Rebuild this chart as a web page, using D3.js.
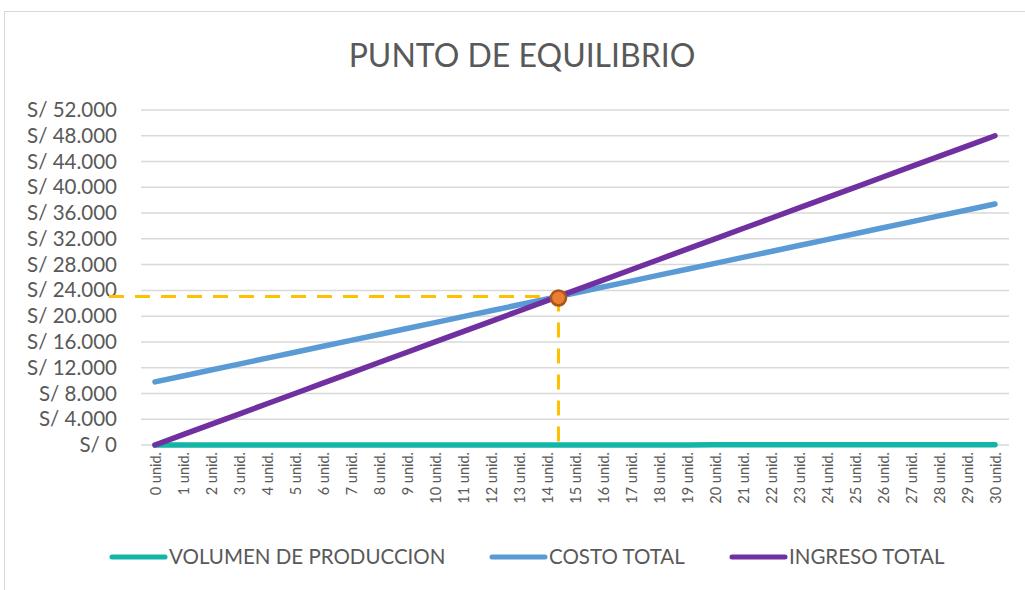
<!DOCTYPE html>
<html>
<head>
<meta charset="utf-8">
<script src="https://cdn.jsdelivr.net/npm/d3@7"></script>
<style>
  html, body { margin: 0; padding: 0; background: #ffffff; }
  svg { display: block; font-family: Lato, "Open Sans", sans-serif; }
</style>
</head>
<body>
<svg id="chart" width="1025" height="590"></svg>
<script>
// Units produced (x categories)
const units = d3.range(0, 31);
const unitLabels = ["0 unid.","1 unid.","2 unid.","3 unid.","4 unid.","5 unid.","6 unid.","7 unid.","8 unid.","9 unid.","10 unid.",
  "11 unid.","12 unid.","13 unid.","14 unid.","15 unid.","16 unid.","17 unid.","18 unid.","19 unid.","20 unid.",
  "21 unid.","22 unid.","23 unid.","24 unid.","25 unid.","26 unid.","27 unid.","28 unid.","29 unid.","30 unid."];

// Series values
const volumenProduccion = [0,1,2,3,4,5,6,7,8,9,10,11,12,13,14,15,16,17,18,19,20,21,22,23,24,25,26,27,28,29,30];
const costoTotal = [9800,10720,11640,12560,13480,14400,15320,16240,17160,18080,19000,19920,20840,21760,22680,23600,
  24520,25440,26360,27280,28200,29120,30040,30960,31880,32800,33720,34640,35560,36480,37400];
const ingresoTotal = [0,1600,3200,4800,6400,8000,9600,11200,12800,14400,16000,17600,19200,20800,22400,24000,
  25600,27200,28800,30400,32000,33600,35200,36800,38400,40000,41600,43200,44800,46400,48000];

// Break-even point (units, soles)
const equilibrioUnidades = 14.41;
const equilibrioMonto = 23060;

// Value axis ticks
const yTicks = [0,4000,8000,12000,16000,20000,24000,28000,32000,36000,40000,44000,48000,52000];

const seriesNames = ["VOLUMEN DE PRODUCCION", "COSTO TOTAL", "INGRESO TOTAL"];
const seriesColors = ["#12B5A6", "#5B9BD5", "#7030A0"];

const svg = d3.select("#chart");
const textColor = "#595959";

// Chart frame
svg.append("rect")
  .attr("x", 4.5).attr("y", 11.5)
  .attr("width", 1030).attr("height", 600)
  .attr("fill", "none").attr("stroke", "#d9d9d9").attr("stroke-width", 1);

// Title
svg.append("text")
  .attr("x", 522).attr("y", 67)
  .attr("text-anchor", "middle")
  .attr("fill", textColor)
  .attr("font-size", 32)
  .text("PUNTO DE EQUILIBRIO");

const plotLeft = 141, plotRight = 1009, plotTop = 110, plotBottom = 445;

const x = d3.scaleLinear().domain([-0.5, 30.5]).range([plotLeft, plotRight]);
const y = d3.scaleLinear().domain([0, 52000]).range([plotBottom, plotTop]);

// Gridlines
svg.append("g")
  .selectAll("line")
  .data(yTicks)
  .join("line")
  .attr("x1", plotLeft).attr("x2", plotRight)
  .attr("y1", d => y(d)).attr("y2", d => y(d))
  .attr("stroke", "#d9d9d9").attr("stroke-width", 1.5);

// Y axis labels
const fmt = v => "S/ " + d3.format(",")(v).replace(/,/g, ".");
const yAxis = d3.axisLeft(y).tickValues(yTicks).tickFormat(fmt).tickSize(0).tickPadding(0);
const gy = svg.append("g").attr("transform", "translate(117,0)").call(yAxis);
gy.select(".domain").remove();
gy.selectAll("text")
  .attr("fill", textColor)
  .attr("font-size", 20.5)
  .attr("font-family", "Lato, sans-serif");

// X axis labels (rotated)
const xAxis = d3.axisBottom(x).tickValues(units).tickFormat(i => unitLabels[i]).tickSize(0).tickPadding(0);
const gx = svg.append("g").attr("transform", `translate(0,${plotBottom})`).call(xAxis);
gx.select(".domain").remove();
gx.selectAll("text")
  .attr("fill", textColor)
  .attr("font-size", 14.5)
  .attr("font-family", "Lato, sans-serif")
  .attr("text-anchor", "end")
  .attr("transform", "rotate(-90)")
  .attr("x", -7)
  .attr("y", 0)
  .attr("dy", "0.35em");

// Series lines
const line = d3.line().x((d, i) => x(units[i])).y(d => y(d));
[volumenProduccion, costoTotal, ingresoTotal].forEach((vals, k) => {
  svg.append("path")
    .datum(vals)
    .attr("d", line)
    .attr("fill", "none")
    .attr("stroke", seriesColors[k])
    .attr("stroke-width", 5.5)
    .attr("stroke-linecap", "round")
    .attr("stroke-linejoin", "round");
});

// Break-even guide lines
const bx = x(equilibrioUnidades), by = y(equilibrioMonto);
svg.append("line")
  .attr("x1", 109).attr("x2", bx)
  .attr("y1", by).attr("y2", by)
  .attr("stroke", "#FFC000").attr("stroke-width", 3)
  .attr("stroke-dasharray", "15,11");
svg.append("line")
  .attr("x1", bx).attr("x2", bx)
  .attr("y1", by).attr("y2", y(0))
  .attr("stroke", "#FFC000").attr("stroke-width", 3)
  .attr("stroke-dasharray", "15,11");

// Break-even marker
svg.append("circle")
  .attr("cx", bx).attr("cy", by + 1.5)
  .attr("r", 7.5)
  .attr("fill", "#ED7D31")
  .attr("stroke", "#A9561C")
  .attr("stroke-width", 2.5);

// Legend
const legendItems = [
  { name: seriesNames[0], color: seriesColors[0], x: 110 },
  { name: seriesNames[1], color: seriesColors[1], x: 490 },
  { name: seriesNames[2], color: seriesColors[2], x: 730 }
];
const lg = svg.append("g").selectAll("g").data(legendItems).join("g")
  .attr("transform", d => `translate(${d.x},557)`);
lg.append("line")
  .attr("x1", 2).attr("x2", 55)
  .attr("y1", 0).attr("y2", 0)
  .attr("stroke", d => d.color).attr("stroke-width", 5)
  .attr("stroke-linecap", "round");
lg.append("text")
  .attr("x", 59).attr("y", 0).attr("dy", "0.35em")
  .attr("fill", textColor)
  .attr("font-size", 20.5)
  .text(d => d.name);
</script>
</body>
</html>
